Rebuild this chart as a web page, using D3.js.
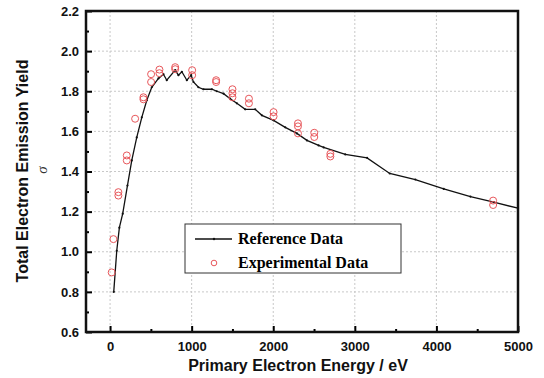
<!DOCTYPE html>
<html lang="en">
  <head>
    <meta charset="utf-8">
    <script src="https://cdn.jsdelivr.net/npm/d3@7"></script>
    <style>
      body { margin: 0; background: #fff; }
      svg text { font-family: "Liberation Sans", Arial, sans-serif; }
      .tick text { font-size: 13px; font-weight: bold; fill: #111; }
      .grid line { stroke: #c8c8c8; stroke-dasharray: 2,2; }
      .legend text { font-family: "Liberation Serif", "Times New Roman", serif; font-weight: bold; font-size: 16px; }
    </style>
  </head>
  <body>
    <svg id="chart" width="544" height="378"></svg>
    <script>

      // reference curve (energy in eV, yield)
      var refEnergy = [45, 82, 114, 155, 213, 266, 327, 389, 450, 511, 593, 654, 695, 798, 838, 880, 941, 994, 1022,
                       1083, 1145, 1248, 1309, 1391, 1472, 1554, 1656, 1779, 1861, 2004, 2147, 2290, 2413,
                       2556, 2618, 2883, 3150, 3428, 3742, 4090, 4417, 4703, 5000];
      var refYield  = [0.80, 1.005, 1.12, 1.19, 1.33, 1.455, 1.57, 1.67, 1.755, 1.82, 1.864, 1.885, 1.855, 1.905, 1.88, 1.897, 1.855, 1.88, 1.846,
                       1.82, 1.81, 1.81, 1.80, 1.788, 1.763, 1.74, 1.71, 1.71, 1.68, 1.655, 1.62, 1.59, 1.555,
                       1.53, 1.52, 1.485, 1.468, 1.39, 1.36, 1.313, 1.275, 1.247, 1.217];

      // experimental points
      var expEnergy = [20, 41, 102, 102, 205, 205, 307, 409, 409, 503, 503, 605, 605, 798, 798, 1006, 1006,
                       1300, 1300, 1500, 1500, 1500, 1702, 1702, 2004, 2004, 2303, 2303, 2303, 2503, 2503,
                       2700, 2700, 4695, 4695];
      var expYield  = [0.897, 1.063, 1.297, 1.28, 1.48, 1.455, 1.663, 1.77, 1.76, 1.885, 1.846, 1.908, 1.89, 1.92, 1.91, 1.905, 1.88,
                       1.855, 1.846, 1.81, 1.79, 1.77, 1.763, 1.74, 1.696, 1.675, 1.64, 1.625, 1.59, 1.593, 1.572,
                       1.488, 1.475, 1.255, 1.233];

      var xTicks = [0, 1000, 2000, 3000, 4000, 5000],
          yTicks = [0.6, 0.8, 1.0, 1.2, 1.4, 1.6, 1.8, 2.0, 2.2];

      var margin = {left: 86, top: 11, right: 26, bottom: 46},
          width = 544 - margin.left - margin.right,
          height = 378 - margin.top - margin.bottom;

      var svg = d3.select("#chart"),
          g = svg.append("g").attr("transform", "translate(" + margin.left + "," + margin.top + ")");

      var x = d3.scaleLinear().domain([-295, 5000]).range([0, width]),
          y = d3.scaleLinear().domain([0.6, 2.2]).range([height, 0]);

      // grid
      g.append("g").attr("class", "grid")
        .selectAll("line").data(xTicks.slice(0, -1)).enter().append("line")
          .attr("x1", x).attr("x2", x).attr("y1", 0).attr("y2", height);
      g.append("g").attr("class", "grid")
        .selectAll("line").data(yTicks.slice(1, -1)).enter().append("line")
          .attr("y1", y).attr("y2", y).attr("x1", 0).attr("x2", width);

      // axes, ticks pointing inward
      var minorX = [500, 1500, 2500, 3500, 4500],
          minorY = [0.7, 0.9, 1.1, 1.3, 1.5, 1.7, 1.9, 2.1];

      var xAxis = g.append("g").attr("transform", "translate(0," + height + ")")
        .call(d3.axisBottom(x).tickValues(xTicks).tickSize(-6).tickPadding(10).tickFormat(d3.format("d")));
      xAxis.select(".domain").remove();
      xAxis.selectAll(".tick line").attr("stroke-width", 2);
      g.append("g").attr("transform", "translate(0," + height + ")")
        .call(d3.axisBottom(x).tickValues(minorX).tickSize(-3).tickFormat(""))
        .call(function(s) { s.select(".domain").remove(); s.selectAll("line").attr("stroke-width", 2); });

      var yAxis = g.append("g")
        .call(d3.axisLeft(y).tickValues(yTicks).tickSize(-6).tickPadding(7).tickFormat(d3.format(".1f")));
      yAxis.select(".domain").remove();
      yAxis.selectAll(".tick line").attr("stroke-width", 2);
      g.append("g")
        .call(d3.axisLeft(y).tickValues(minorY).tickSize(-3).tickFormat(""))
        .call(function(s) { s.select(".domain").remove(); s.selectAll("line").attr("stroke-width", 2); });

      g.append("rect")
        .attr("width", width).attr("height", height)
        .attr("fill", "none").attr("stroke", "#111").attr("stroke-width", 2.5);

      // reference line
      var ref = refEnergy.map(function(e, i) { return [e, refYield[i]]; });
      g.append("path").datum(ref)
        .attr("fill", "none").attr("stroke", "#111").attr("stroke-width", 1.3)
        .attr("d", d3.line().x(function(d) { return x(d[0]); }).y(function(d) { return y(d[1]); }));
      g.selectAll("circle.ref").data(ref).enter().append("circle")
        .attr("class", "ref").attr("r", 1.1).attr("fill", "#111")
        .attr("cx", function(d) { return x(d[0]); }).attr("cy", function(d) { return y(d[1]); });

      // experimental circles
      g.selectAll("circle.exp").data(expEnergy).enter().append("circle")
        .attr("class", "exp").attr("r", 3.5)
        .attr("fill", "none").attr("stroke", "#e8575b").attr("stroke-width", 1)
        .attr("cx", function(d) { return x(d); })
        .attr("cy", function(d, i) { return y(expYield[i]); });

      // legend
      var lg = svg.append("g").attr("class", "legend").attr("transform", "translate(185,224)");
      lg.append("rect").attr("width", 216).attr("height", 49)
        .attr("fill", "#fff").attr("stroke", "#333").attr("stroke-width", 1);
      lg.append("line").attr("x1", 10).attr("x2", 47).attr("y1", 15).attr("y2", 15)
        .attr("stroke", "#111").attr("stroke-width", 1.3);
      lg.append("circle").attr("cx", 29).attr("cy", 15).attr("r", 1.2).attr("fill", "#111");
      lg.append("text").attr("x", 53).attr("y", 20).text("Reference Data");
      lg.append("circle").attr("cx", 29).attr("cy", 39).attr("r", 2.8)
        .attr("fill", "none").attr("stroke", "#e8575b");
      lg.append("text").attr("x", 53).attr("y", 44).text("Experimental Data");

      // axis titles
      svg.append("text")
        .attr("x", 298).attr("y", 371).attr("text-anchor", "middle")
        .style("font-size", "16px").style("font-weight", "bold").attr("fill", "#111")
        .text("Primary Electron Energy / eV");
      svg.append("text")
        .attr("transform", "translate(28,171) rotate(-90)").attr("text-anchor", "middle")
        .style("font-size", "16px").style("font-weight", "bold").attr("fill", "#111")
        .text("Total Electron Emission Yield");
      svg.append("text")
        .attr("transform", "translate(47,170) rotate(-90)").attr("text-anchor", "middle")
        .style("font-size", "15px").style("font-style", "italic").attr("fill", "#333")
        .style("font-family", "Liberation Serif, serif")
        .text("σ");

    </script>
  </body>
</html>
